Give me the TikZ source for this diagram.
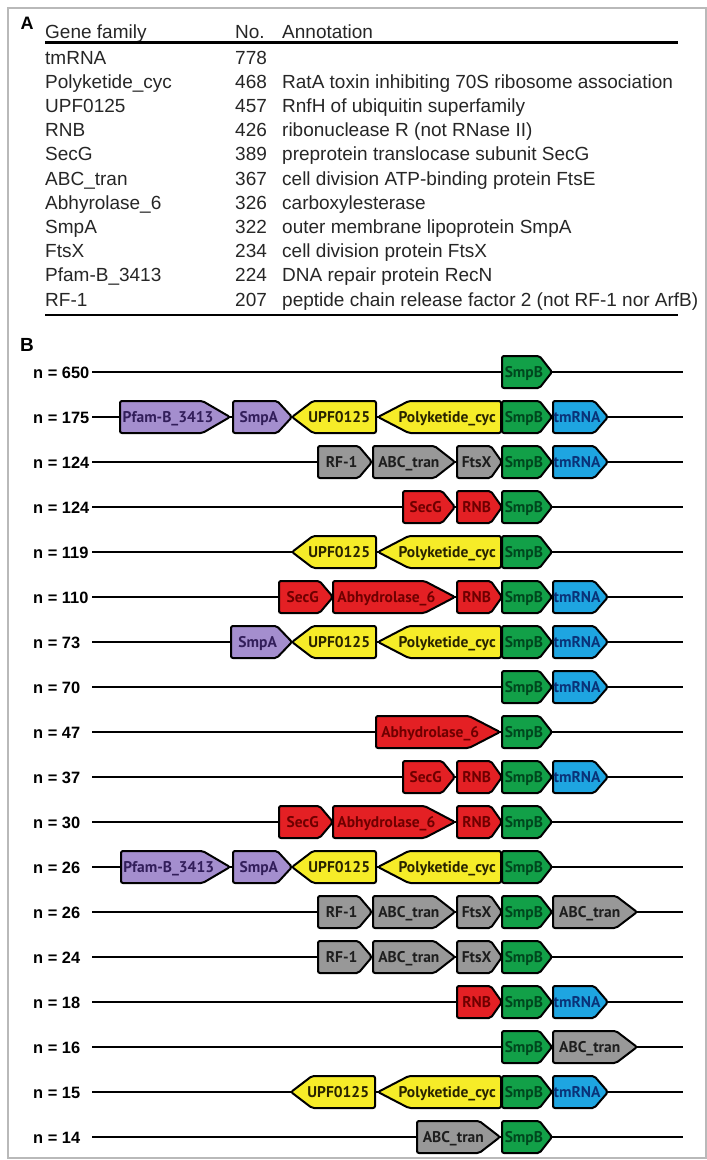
\documentclass[tikz,border=0pt]{standalone}
\usepackage{fontspec}
\setmainfont{Liberation Sans}
\newfontfamily\genefont{PT Sans}
\usetikzlibrary{positioning}

\definecolor{grnfill}{RGB}{18,160,72}
\definecolor{grntext}{RGB}{0,70,30}
\definecolor{blufill}{RGB}{30,165,225}
\definecolor{blutext}{RGB}{10,50,120}
\definecolor{yelfill}{RGB}{246,236,40}
\definecolor{yeltext}{RGB}{40,35,0}
\definecolor{purfill}{RGB}{164,142,206}
\definecolor{purtext}{RGB}{50,30,90}
\definecolor{gryfill}{RGB}{152,152,152}
\definecolor{grytext}{RGB}{30,30,30}
\definecolor{redfill}{RGB}{228,32,36}
\definecolor{redtext}{RGB}{110,0,0}
\definecolor{framegrey}{RGB}{185,185,185}

% gene arrow pointing right: name, from, to, row y, colour, label
\newcommand{\fwdgene}[6]{%
  \pgfmathsetmacro{\gtip}{0.25*(#3-#2)}%
  \pgfmathsetmacro{\gmid}{(#2+#3-\gtip/2)/2}%
  \draw[gene,fill=#5fill] (#2,#4-16) -- (#3-\gtip,#4-16) -- (#3,#4)
    -- (#3-\gtip,#4+16) -- (#2,#4+16) -- cycle;
  \node[genelabel,text=#5text] (#1) at (\gmid,#4) {#6};}
% gene arrow pointing left
\newcommand{\revgene}[6]{%
  \pgfmathsetmacro{\gtip}{0.25*(#3-#2)}%
  \pgfmathsetmacro{\gmid}{(#2+#3+\gtip/2)/2}%
  \draw[gene,fill=#5fill] (#3,#4-16) -- (#2+\gtip,#4-16) -- (#2,#4)
    -- (#2+\gtip,#4+16) -- (#3,#4+16) -- cycle;
  \node[genelabel,text=#5text] (#1) at (\gmid,#4) {#6};}

\begin{document}
\begin{tikzpicture}[x=1pt,y=-1pt,
    tabtext/.style={anchor=base west,inner sep=0pt,text=black!85,
      font=\fontsize{19}{22}\selectfont},
    panel/.style={inner sep=0pt,font=\bfseries\fontsize{18}{20}\selectfont},
    rowlabel/.style={anchor=base west,inner sep=0pt,
      font=\bfseries\fontsize{16.4}{18}\selectfont},
    track/.style={line width=2.5pt},
    rule/.style={line width=2.6pt},
    gene/.style={draw=black,line width=2pt,rounded corners=2pt},
    genelabel/.style={inner sep=0pt,text height=10.5pt,text depth=0pt,
      font=\genefont\bfseries\fontsize{15.5}{16}\selectfont}]
  \useasboundingbox (0,0) rectangle (707,1160);
  \draw[framegrey,line width=1.5pt] (8,8) rectangle (706,1158);

  % panel A: table
  \node[panel] (labA) at (27,23) {A};
  \node[tabtext] (hgene) at (45,38) {Gene family};
  \node[tabtext] (hno) at (235,38) {No.};
  \node[tabtext] (hann) at (282,38) {Annotation};
  \draw[rule] (45,42.5) -- (678,42.5);
  \foreach \fam/\num/\ann [count=\k from 0] in {
      tmRNA/778/{},
      Polyketide\_cyc/468/RatA toxin inhibiting 70S ribosome association,
      UPF0125/457/RnfH of ubiquitin superfamily,
      RNB/426/ribonuclease R (not RNase II),
      SecG/389/preprotein translocase subunit SecG,
      ABC\_tran/367/cell division ATP-binding protein FtsE,
      Abhyrolase\_6/326/carboxylesterase,
      SmpA/322/outer membrane lipoprotein SmpA,
      FtsX/234/cell division protein FtsX,
      Pfam-B\_3413/224/DNA repair protein RecN,
      RF-1/207/peptide chain release factor 2 (not RF-1 nor ArfB)}{
    \node[tabtext] (fam\k) at (45,{64+24.2*\k}) {\fam};
    \node[tabtext] (num\k) at (235,{64+24.2*\k}) {\num};
    \node[tabtext] (ann\k) at (282,{64+24.2*\k}) {\ann};
  }
  \draw[rule] (45,315) -- (678,315);

  % panel B: gene neighbourhoods
  \node[panel,font=\bfseries\fontsize{19}{21}\selectfont] (labB) at (27,345) {B};
  \foreach \lab [count=\i from 0] in
      {650,175,124,124,119,110,73,70,47,37,30,26,26,24,18,16,15,14}{
    \node[rowlabel] (n\i) at (33,{372+45*\i+6}) {n = \lab};
    \coordinate (s\i) at (92,{372+45*\i});
    \coordinate (e\i) at (683,{372+45*\i});
    \draw[track] (s\i) -- (e\i);
  }

  % n = 650
  \fwdgene{a0}{502}{552}{372}{grn}{SmpB}
  % n = 175
  \fwdgene{b1}{120}{230}{417}{pur}{Pfam-B\_3413}
  \fwdgene{b2}{233}{292}{417}{pur}{SmpA}
  \revgene{b3}{292}{376}{417}{yel}{UPF0125}
  \revgene{b4}{378}{501}{417}{yel}{Polyketide\_cyc}
  \fwdgene{b5}{502}{552}{417}{grn}{SmpB}
  \fwdgene{b6}{553}{608}{417}{blu}{tmRNA}
  % n = 124
  \fwdgene{c1}{318}{372}{462}{gry}{RF-1}
  \fwdgene{c2}{373}{455}{462}{gry}{ABC\_tran}
  \fwdgene{c3}{457}{502}{462}{gry}{FtsX}
  \fwdgene{c4}{502}{552}{462}{grn}{SmpB}
  \fwdgene{c5}{553}{608}{462}{blu}{tmRNA}
  % n = 124
  \fwdgene{d1}{403}{455}{507}{red}{SecG}
  \fwdgene{d2}{457}{502}{507}{red}{RNB}
  \fwdgene{d3}{502}{552}{507}{grn}{SmpB}
  % n = 119
  \revgene{e1}{292}{376}{552}{yel}{UPF0125}
  \revgene{e2}{378}{501}{552}{yel}{Polyketide\_cyc}
  \fwdgene{e3}{502}{552}{552}{grn}{SmpB}
  % n = 110
  \fwdgene{f1}{279}{333}{597}{red}{SecG}
  \fwdgene{f2}{333}{455}{597}{red}{Abhydrolase\_6}
  \fwdgene{f3}{457}{502}{597}{red}{RNB}
  \fwdgene{f4}{502}{552}{597}{grn}{SmpB}
  \fwdgene{f5}{553}{608}{597}{blu}{tmRNA}
  % n = 73
  \fwdgene{g1}{231}{292}{642}{pur}{SmpA}
  \revgene{g2}{292}{376}{642}{yel}{UPF0125}
  \revgene{g3}{378}{501}{642}{yel}{Polyketide\_cyc}
  \fwdgene{g4}{502}{552}{642}{grn}{SmpB}
  \fwdgene{g5}{553}{608}{642}{blu}{tmRNA}
  % n = 70
  \fwdgene{h1}{502}{552}{687}{grn}{SmpB}
  \fwdgene{h2}{553}{608}{687}{blu}{tmRNA}
  % n = 47
  \fwdgene{i1}{376}{500}{732}{red}{Abhydrolase\_6}
  \fwdgene{i2}{502}{552}{732}{grn}{SmpB}
  % n = 37
  \fwdgene{j1}{403}{455}{777}{red}{SecG}
  \fwdgene{j2}{457}{502}{777}{red}{RNB}
  \fwdgene{j3}{502}{552}{777}{grn}{SmpB}
  \fwdgene{j4}{553}{608}{777}{blu}{tmRNA}
  % n = 30
  \fwdgene{k1}{279}{333}{822}{red}{SecG}
  \fwdgene{k2}{333}{455}{822}{red}{Abhydrolase\_6}
  \fwdgene{k3}{457}{502}{822}{red}{RNB}
  \fwdgene{k4}{502}{552}{822}{grn}{SmpB}
  % n = 26
  \fwdgene{l1}{121}{230}{867}{pur}{Pfam-B\_3413}
  \fwdgene{l2}{233}{292}{867}{pur}{SmpA}
  \revgene{l3}{292}{376}{867}{yel}{UPF0125}
  \revgene{l4}{378}{501}{867}{yel}{Polyketide\_cyc}
  \fwdgene{l5}{502}{552}{867}{grn}{SmpB}
  % n = 26
  \fwdgene{m1}{318}{372}{912}{gry}{RF-1}
  \fwdgene{m2}{373}{455}{912}{gry}{ABC\_tran}
  \fwdgene{m3}{457}{502}{912}{gry}{FtsX}
  \fwdgene{m4}{502}{552}{912}{grn}{SmpB}
  \fwdgene{m5}{553}{637}{912}{gry}{ABC\_tran}
  % n = 24
  \fwdgene{o1}{318}{372}{957}{gry}{RF-1}
  \fwdgene{o2}{373}{455}{957}{gry}{ABC\_tran}
  \fwdgene{o3}{457}{502}{957}{gry}{FtsX}
  \fwdgene{o4}{502}{552}{957}{grn}{SmpB}
  % n = 18
  \fwdgene{p1}{457}{502}{1002}{red}{RNB}
  \fwdgene{p2}{502}{552}{1002}{grn}{SmpB}
  \fwdgene{p3}{553}{608}{1002}{blu}{tmRNA}
  % n = 16
  \fwdgene{q1}{502}{552}{1047}{grn}{SmpB}
  \fwdgene{q2}{553}{637}{1047}{gry}{ABC\_tran}
  % n = 15
  \revgene{r1}{291}{375}{1092}{yel}{UPF0125}
  \revgene{r2}{378}{501}{1092}{yel}{Polyketide\_cyc}
  \fwdgene{r3}{502}{552}{1092}{grn}{SmpB}
  \fwdgene{r4}{553}{608}{1092}{blu}{tmRNA}
  % n = 14
  \fwdgene{t1}{417}{500}{1137}{gry}{ABC\_tran}
  \fwdgene{t2}{502}{552}{1137}{grn}{SmpB}
\end{tikzpicture}
\end{document}
